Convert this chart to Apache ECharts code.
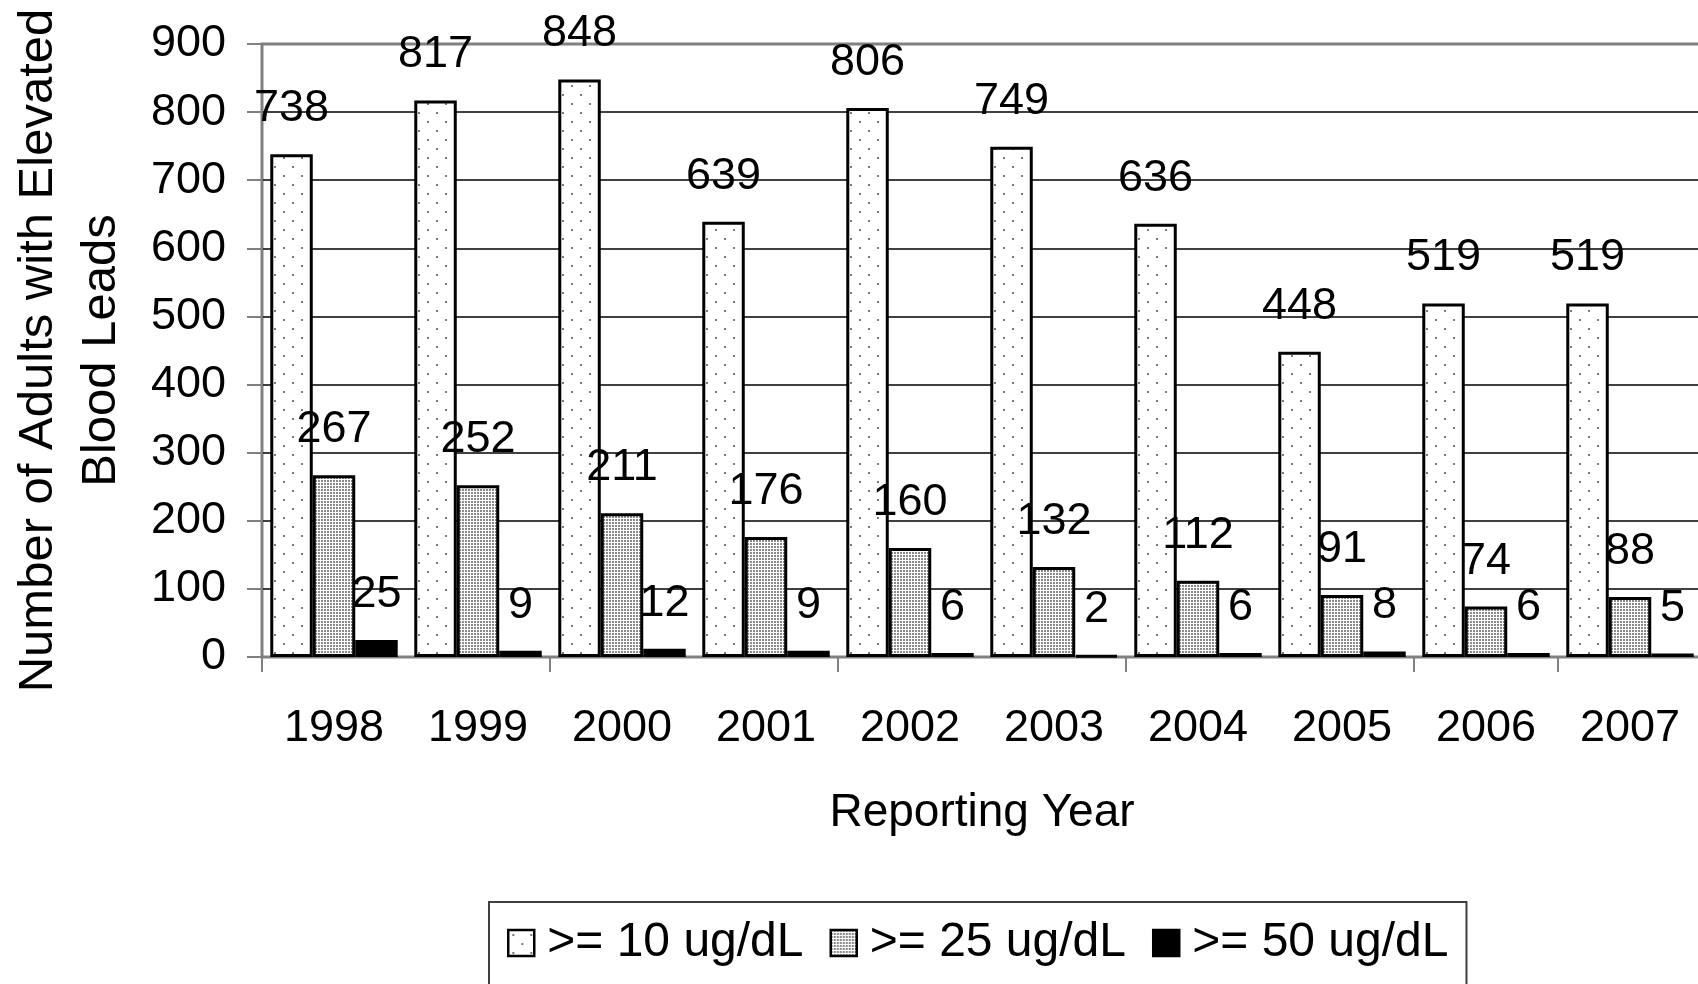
<!DOCTYPE html>
<html>
<head>
<meta charset="utf-8">
<script src="https://cdn.jsdelivr.net/npm/echarts@6/dist/echarts.min.js"></script>
<style>
  html, body { margin: 0; padding: 0; background: #fff; }
  #chart { width: 1698px; height: 984px; }
</style>
</head>
<body>
<div id="chart"></div>
<script>
// Reporting years and counts of adults with elevated blood lead levels
const years = ['1998', '1999', '2000', '2001', '2002', '2003', '2004', '2005', '2006', '2007'];
const over10 = [738, 817, 848, 639, 806, 749, 636, 448, 519, 519];
const over25 = [267, 252, 211, 176, 160, 132, 112, 91, 74, 88];
const over50 = [25, 9, 12, 9, 6, 2, 6, 8, 6, 5];
const seriesNames = ['>= 10 ug/dL', '>= 25 ug/dL', '>= 50 ug/dL'];
const yTicks = [0, 100, 200, 300, 400, 500, 600, 700, 800, 900];

const FONT = '"Liberation Sans", Arial, sans-serif';

// Sparse staggered dot fill
function sparseDots() {
  const c = document.createElement('canvas');
  c.width = 18; c.height = 18;
  const g = c.getContext('2d');
  g.fillStyle = '#fff'; g.fillRect(0, 0, 18, 18);
  g.fillStyle = '#7a7a7a';
  g.fillRect(4, 4, 2, 2);
  g.fillRect(13, 13, 2, 2);
  return { image: c, repeat: 'repeat' };
}

// Dense fine dot fill
function denseDots() {
  const c = document.createElement('canvas');
  c.width = 3; c.height = 3;
  const g = c.getContext('2d');
  g.fillStyle = '#fff'; g.fillRect(0, 0, 3, 3);
  g.fillStyle = '#8a8a8a';
  g.fillRect(0, 0, 2, 2);
  return { image: c, repeat: 'repeat' };
}

const chart = echarts.init(document.getElementById('chart'), null, { renderer: 'canvas' });

const labelStyle = {
  show: true,
  position: 'top',
  distance: 23,
  fontSize: 45,
  color: '#000',
  fontFamily: FONT
};

const barStyle = (fill) => ({ color: fill, borderColor: '#000', borderWidth: 3 });

chart.setOption({
  backgroundColor: '#fff',
  animation: false,
  textStyle: { fontFamily: FONT, color: '#000' },
  grid: {
    left: 262,
    top: 44,
    width: 1440,
    bottom: 327,
    outerBoundsMode: 'none',
    containLabel: false,
    show: true,
    borderColor: '#808080',
    borderWidth: 3,
    backgroundColor: 'transparent'
  },
  legend: {
    data: seriesNames,
    left: 489,
    top: 902,
    orient: 'horizontal',
    icon: 'rect',
    itemWidth: 26,
    itemHeight: 26,
    itemGap: 26,
    padding: [17, 18, 60, 18],
    borderColor: '#404040',
    borderWidth: 2,
    textStyle: { fontSize: 48, color: '#000', fontFamily: FONT, padding: [0, 0, 0, 8] },
    itemStyle: { borderWidth: 2.5 }
  },
  xAxis: {
    type: 'category',
    data: years,
    boundaryGap: true,
    name: 'Reporting Year',
    nameLocation: 'middle',
    nameGap: 133,
    nameTextStyle: { fontSize: 46, color: '#000', fontFamily: FONT },
    axisLine: { show: true, lineStyle: { color: '#808080', width: 2 } },
    axisTick: { show: true, interval: 1, length: 15, lineStyle: { color: '#808080', width: 2 } },
    axisLabel: { interval: 0, fontSize: 45, color: '#000', margin: 49, fontFamily: FONT },
    splitLine: { show: false }
  },
  yAxis: {
    type: 'value',
    min: yTicks[0],
    max: yTicks[yTicks.length - 1],
    interval: 100,
    name: 'Number of Adults with Elevated\nBlood Leads',
    nameLocation: 'middle',
    nameRotate: 90,
    nameGap: 129,
    nameTextStyle: { fontSize: 49, lineHeight: 63, color: '#000', fontFamily: FONT, align: 'center' },
    axisLine: { show: true, lineStyle: { color: '#808080', width: 2 } },
    axisTick: { show: true, inside: false, length: 15, lineStyle: { color: '#808080', width: 2 } },
    axisLabel: { fontSize: 45, color: '#000', margin: 36, fontFamily: FONT },
    splitLine: {
      show: true,
      lineStyle: {
        color: ['rgba(0,0,0,0)', '#000', '#000', '#000', '#000', '#000', '#000', '#000', '#000', 'rgba(0,0,0,0)'],
        width: 1.5
      }
    }
  },
  series: [
    {
      name: seriesNames[0],
      type: 'bar',
      data: over10,
      barGap: '0%',
      barCategoryGap: '11.5%',
      itemStyle: barStyle(sparseDots()),
      label: labelStyle
    },
    {
      name: seriesNames[1],
      type: 'bar',
      data: over25,
      barGap: '0%',
      barCategoryGap: '11.5%',
      itemStyle: barStyle(denseDots()),
      label: labelStyle
    },
    {
      name: seriesNames[2],
      type: 'bar',
      data: over50,
      barGap: '0%',
      barCategoryGap: '11.5%',
      itemStyle: barStyle('#000'),
      label: labelStyle
    }
  ]
});
</script>
</body>
</html>
